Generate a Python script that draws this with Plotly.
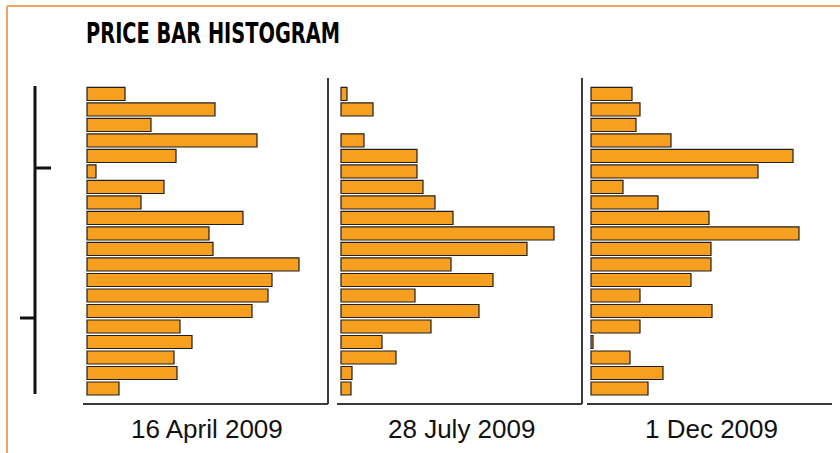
import plotly.graph_objects as go

W, H = 840, 453

# Price levels (rows, top = highest price)
levels = list(range(1, 21))

dates = ["16 April 2009", "28 July 2009", "1 Dec 2009"]

# Bar lengths (relative time spent at each price level)
april = [38, 128, 64, 170, 89, 9, 77, 54, 156, 122, 126, 212, 185, 181, 165, 93, 105, 87, 90, 32]
july = [6, 32, 0, 23, 76, 76, 82, 94, 112, 213, 186, 110, 152, 74, 138, 90, 41, 55, 11, 10]
december = [41, 49, 45, 80, 202, 167, 32, 67, 118, 208, 120, 120, 100, 49, 121, 49, 2, 39, 72, 57]

series = [april, july, december]

ORANGE = "#F7A020"
EDGE = "#1f1f1f"
FRAME = "#F4A262"
AXIS = "#3a3a3a"


def px(x):
    return x / W


def py(y):
    return 1 - y / H


fig = go.Figure()

panels = [(83, 328), (337, 582), (587, 832)]
for i, (vals, (x0, x1)) in enumerate(zip(series, panels)):
    suffix = "" if i == 0 else str(i + 1)
    fig.add_trace(go.Bar(
        x=vals, y=levels, orientation="h",
        marker=dict(color=ORANGE,
                    line=dict(color=EDGE, width=[0 if v == 0 else 1.2 for v in vals])),
        width=0.84,
        xaxis="x" + suffix, yaxis="y",
        showlegend=False, hoverinfo="x",
    ))
    fig.layout["xaxis" + suffix] = dict(
        domain=[px(x0), px(x1)], range=[-4, 241], anchor="y",
        showgrid=False, zeroline=False, showticklabels=False, ticks="",
        showline=False, fixedrange=True,
    )
    # bottom axis line
    fig.add_shape(type="line", xref="paper", yref="paper",
                  x0=px(x0), x1=px(x1), y0=py(404), y1=py(404),
                  line=dict(color=AXIS, width=2))
    # date label
    fig.add_annotation(x=(px(x0) + px(x1)) / 2 + px(2), y=py(429), xref="paper", yref="paper",
                       text=dates[i], showarrow=False, xanchor="center", yanchor="middle",
                       font=dict(family="Liberation Sans, Arial",
                                 size=26, color="#111"))

# panel right borders
for xr in (328, 582):
    fig.add_shape(type="line", xref="paper", yref="paper",
                  x0=px(xr), x1=px(xr), y0=py(78), y1=py(404),
                  line=dict(color=AXIS, width=2))

# left price axis
fig.add_shape(type="line", xref="paper", yref="paper",
              x0=px(35), x1=px(35), y0=py(86), y1=py(394),
              line=dict(color="#111", width=3))
fig.add_shape(type="line", xref="paper", yref="paper",
              x0=px(35), x1=px(51), y0=py(168), y1=py(168),
              line=dict(color="#111", width=3))
fig.add_shape(type="line", xref="paper", yref="paper",
              x0=px(20), x1=px(35), y0=py(318), y1=py(318),
              line=dict(color="#111", width=3))

# orange frame (top and left)
fig.add_shape(type="line", xref="paper", yref="paper",
              x0=px(7), x1=1, y0=py(6), y1=py(6),
              line=dict(color=FRAME, width=2))
fig.add_shape(type="line", xref="paper", yref="paper",
              x0=px(7), x1=px(7), y0=py(6), y1=0,
              line=dict(color=FRAME, width=2))

# title
fig.add_annotation(x=px(84), y=py(34), xref="paper", yref="paper",
                   text="<b>PRICE BAR HISTOGRAM</b>", showarrow=False,
                   xanchor="left", yanchor="middle",
                   font=dict(family="DejaVu Sans, Liberation Sans",
                             size=28, color="#000"))

fig.update_layout(
    width=W, height=H,
    margin=dict(l=0, r=0, t=0, b=0),
    paper_bgcolor="white", plot_bgcolor="rgba(0,0,0,0)",
    yaxis=dict(domain=[py(404), py(78)], range=[21, -0.03],
               showgrid=False, zeroline=False, showticklabels=False, ticks="",
               showline=False, fixedrange=True),
    bargap=0.16,
)

post = """
document.body.style.margin='0px';
try {
  var gd = document.getElementById('{plot_id}');
  var texts = gd.querySelectorAll('.annotation-text');
  texts.forEach(function(t){
    if (t.textContent.indexOf('PRICE') >= 0) {
      var bb = t.getBBox();
      var target = 254.0;
      var s = target / bb.width;
      t.setAttribute('transform', 'translate(' + bb.x + ',0) scale(' + s + ',1) translate(' + (-bb.x) + ',0)');
    }
  });
} catch(e) {}
"""

fig.write_html("out.html", post_script=post, config={"displayModeBar": False})
